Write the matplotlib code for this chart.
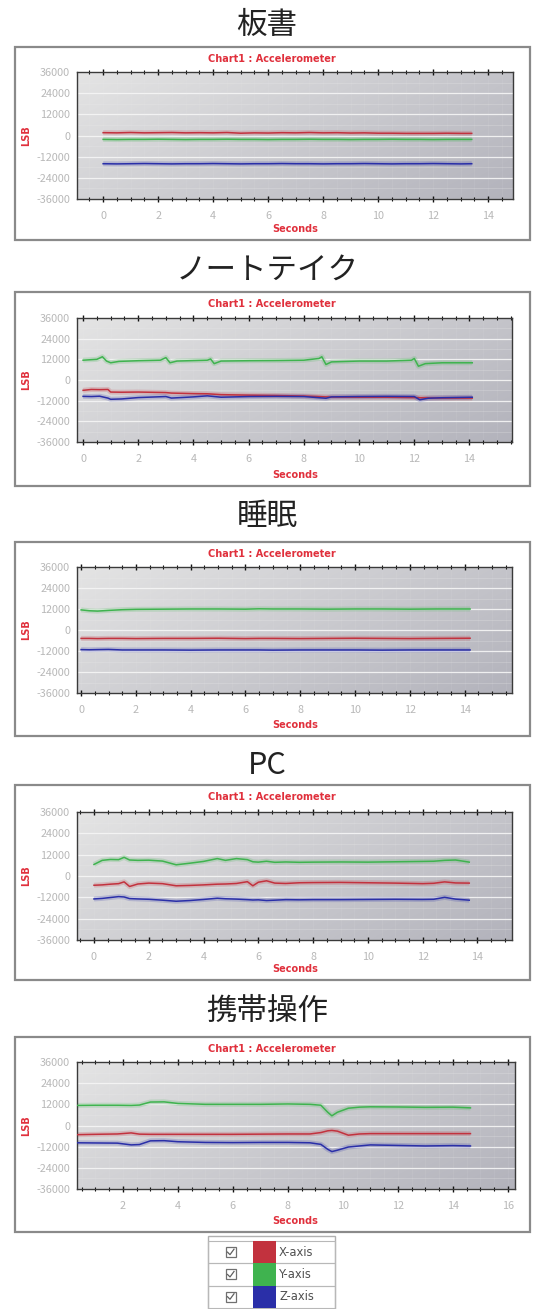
import matplotlib
matplotlib.use("Agg")
import matplotlib.pyplot as plt
import numpy as np
from matplotlib.patches import Rectangle
from matplotlib.lines import Line2D

plt.rcParams['font.family'] = ['Noto Sans CJK JP', 'DejaVu Sans']

# ---------------- data ----------------
panel_titles = ["板書", "ノートテイク", "睡眠", "PC", "携帯操作"]
series_labels = ["X-axis", "Y-axis", "Z-axis"]
y_ticks = [36000, 24000, 12000, 0, -12000, -24000, -36000]

# 板書
t1 = [0, 0.5, 1, 1.5, 2, 2.5, 3, 3.5, 4, 4.5, 5, 5.5, 6, 6.5, 7, 7.5, 8, 8.5, 9, 9.5,
      10, 10.5, 11, 11.5, 12, 12.5, 13, 13.4]
x1 = [1600, 1500, 1700, 1500, 1600, 1700, 1500, 1600, 1500, 1700, 1300, 1500, 1400, 1600,
      1500, 1700, 1500, 1600, 1400, 1500, 1300, 1300, 1200, 1200, 1200, 1300, 1200, 1200]
y1 = [-2200, -2300, -2200, -2200, -2100, -2200, -2300, -2200, -2200, -2100, -2200, -2200,
      -2300, -2200, -2200, -2100, -2200, -2200, -2300, -2200, -2200, -2100, -2200, -2200,
      -2300, -2200, -2200, -2200]
z1 = [-16000, -16100, -16000, -15900, -16000, -16100, -16000, -16000, -15900, -16000,
      -16100, -16000, -16000, -15900, -16000, -16000, -16100, -16000, -16000, -15900,
      -16000, -16100, -16000, -16000, -15900, -16000, -16100, -16000]

# ノートテイク
t2y = [0, 0.5, 0.7, 0.85, 1.0, 1.3, 2.0, 2.8, 3.0, 3.15, 3.4, 4.5, 4.62, 4.75, 5.0, 6.0,
       7.0, 8.0, 8.55, 8.65, 8.8, 9.0, 10.0, 11.0, 11.9, 12.0, 12.15, 12.4, 13.0, 14.1]
y2 = [11500, 12000, 13500, 11000, 10000, 10800, 11200, 11500, 13000, 10000, 11000, 11500,
      12200, 9500, 11000, 11200, 11300, 11500, 12500, 13500, 9000, 10500, 11000, 11000,
      11500, 12500, 8000, 9500, 10000, 10000]
t2xz = [0, 0.3, 0.6, 0.9, 1.0, 1.4, 2.0, 3.0, 3.2, 4.0, 4.5, 5.0, 6.0, 7.0, 8.0, 8.8,
        9.0, 10.0, 11.0, 12.0, 12.2, 12.5, 13.0, 14.1]
x2 = [-6000, -5500, -5600, -5500, -7000, -7100, -7000, -7300, -7600, -7900, -8000, -8500,
      -8800, -9000, -9300, -9800, -9900, -10000, -10000, -10200, -10300, -10400, -10500,
      -10500]
z2 = [-9500, -9600, -9400, -10500, -11200, -11000, -10200, -9600, -10500, -9800, -9200,
      -10000, -9600, -9500, -9600, -10600, -9800, -9600, -9500, -9600, -11500, -10600,
      -10300, -10000]

# 睡眠
t3 = [0, 0.3, 0.6, 1.0, 1.5, 2, 3, 4, 5, 6, 6.5, 7, 8, 9, 10, 11, 12, 13, 14.2]
x3 = [-4800, -4800, -4900, -4800, -4800, -4900, -4800, -4800, -4700, -4900, -4800, -4800,
      -4900, -4800, -4700, -4800, -4900, -4800, -4700]
y3 = [11500, 11000, 10800, 11200, 11600, 11800, 11900, 12000, 12000, 11900, 12100, 12000,
      12000, 11900, 12000, 12000, 11900, 12000, 12000]
z3 = [-11200, -11300, -11200, -11100, -11400, -11400, -11400, -11500, -11400, -11400,
      -11400, -11500, -11400, -11400, -11400, -11500, -11400, -11400, -11400]

# PC
t4 = [0, 0.3, 0.6, 0.9, 1.1, 1.3, 1.6, 2.0, 2.5, 3.0, 3.5, 4.0, 4.5, 4.8, 5.2, 5.6, 5.8,
      6.0, 6.3, 6.6, 7.0, 7.5, 8.0, 9.0, 10.0, 11.0, 12.0, 12.4, 12.8, 13.2, 13.7]
x4 = [-5200, -5000, -4600, -4300, -3300, -5900, -4500, -4000, -4300, -5500, -5300, -5000,
      -4600, -4500, -4200, -3200, -5500, -3500, -2700, -4000, -4200, -3800, -3700, -3600,
      -3800, -4000, -4300, -4100, -3300, -3900, -4000]
y4 = [6500, 8800, 9300, 9200, 10500, 9000, 8800, 8900, 8400, 6300, 7200, 8200, 9800, 8800,
      9800, 9200, 8000, 7800, 8300, 7700, 7900, 7700, 7800, 7900, 7800, 8000, 8200, 8300,
      8800, 9000, 7800]
z4 = [-12900, -12600, -12100, -11600, -11800, -12700, -12900, -13100, -13600, -14200,
      -13800, -13200, -12500, -12800, -13000, -13300, -13500, -13400, -13800, -13600,
      -13300, -13400, -13300, -13300, -13200, -13100, -13200, -13100, -12000, -13000, -13600]

# 携帯操作
t5 = [0.33, 1.0, 1.8, 2.3, 2.6, 3.0, 3.5, 4.0, 5.0, 6.0, 7.0, 8.0, 8.8, 9.2, 9.45, 9.6,
      9.8, 10.2, 10.6, 11.0, 12.0, 13.0, 14.0, 14.64]
x5 = [-5200, -5000, -4800, -4200, -4900, -5000, -5000, -5000, -5000, -5000, -4900, -4800,
      -4800, -4000, -3000, -2800, -3200, -5500, -4800, -4600, -4600, -4600, -4600, -4600]
y5 = [11400, 11500, 11500, 11400, 11600, 13300, 13400, 12500, 12000, 12000, 12000, 12200,
      12000, 11500, 7500, 5500, 7500, 9800, 10400, 10600, 10500, 10300, 10400, 10000]
z5 = [-9800, -9900, -10000, -11000, -10800, -8700, -8600, -9200, -9600, -9700, -9600, -9600,
      -9800, -10700, -13500, -14800, -14000, -12200, -11600, -11000, -11300, -11600, -11400,
      -11600]

panel_data = [
    (t1, x1, t1, y1, t1, z1),
    (t2xz, x2, t2y, y2, t2xz, z2),
    (t3, x3, t3, y3, t3, z3),
    (t4, x4, t4, y4, t4, z4),
    (t5, x5, t5, y5, t5, z5),
]

# ---------------- layout (pixels) ----------------
W, H = 545, 1309
colors = ["#c2323e", "#3fb34f", "#2a2fa8"]

# title y, frame (top, bottom), plot (left, top, right, bottom), xlim, xticks
layout = [
    (25, (47, 240), (77, 72, 513, 199), (-0.95, 14.9), [0, 2, 4, 6, 8, 10, 12, 14]),
    (270, (292, 486), (77, 318, 512, 442), (-0.22, 15.54), [0, 2, 4, 6, 8, 10, 12, 14]),
    (516, (542, 736), (77, 567, 512, 693), (-0.15, 15.73), [0, 2, 4, 6, 8, 10, 12, 14]),
    (766, (785, 980), (77, 812, 512, 940), (-0.62, 15.26), [0, 2, 4, 6, 8, 10, 12, 14]),
    (1011, (1037, 1232), (77, 1062, 515, 1189), (0.33, 16.26), [2, 4, 6, 8, 10, 12, 14, 16]),
]

fig = plt.figure(figsize=(W / 100, H / 100), dpi=100)
fig.patch.set_facecolor("white")


def fx(px):
    return px / W


def fy(py):
    return 1 - py / H


# gradient background image
gy, gx = np.mgrid[0:1:100j, 0:1:200j]
g = 0.65 * gx + 0.35 * gy
top = np.array([0.895, 0.895, 0.895])
bot = np.array([0.70, 0.70, 0.735])
grad = top[None, None, :] * (1 - g[..., None]) + bot[None, None, :] * g[..., None]

for i, (ty, (ft, fb), (pl, pt, pr, pb), xl, xt) in enumerate(layout):
    # title
    fig.text(fx(267), fy(ty), panel_titles[i], ha="center", va="center", fontsize=22,
             color="#222222")
    # frame
    fig.patches.append(Rectangle((fx(15), fy(fb)), fx(530) - fx(15), fy(ft) - fy(fb),
                                 transform=fig.transFigure, facecolor="white",
                                 edgecolor="#8a8a8a", lw=1.6, zorder=-5))
    fig.text(fx(272), fy(ft + 12), "Chart1 : Accelerometer", ha="center", va="center",
             fontsize=7, fontweight="bold", color="#e0303c", family="DejaVu Sans")
    fig.text(fx(295), fy(fb - 11), "Seconds", ha="center", va="center",
             fontsize=7, fontweight="bold", color="#e0303c", family="DejaVu Sans")
    fig.text(fx(26), fy((pt + pb) / 2), "LSB", ha="center", va="center", rotation=90,
             fontsize=7, fontweight="bold", color="#e0303c", family="DejaVu Sans")

    ax = fig.add_axes([fx(pl), fy(pb), fx(pr) - fx(pl), fy(pt) - fy(pb)])
    ax.set_zorder(2)
    ax.imshow(grad, extent=(0, 1, 0, 1), transform=ax.transAxes, aspect="auto",
              zorder=0, interpolation="bilinear")
    ax.set_xlim(*xl)
    ax.set_ylim(-36000, 36000)
    ax.set_yticks(y_ticks)
    ax.set_yticklabels([str(v) for v in y_ticks])
    ax.set_xticks(xt)
    ax.set_xticklabels([str(v) for v in xt])
    ax.set_xticks(np.arange(np.ceil(xl[0] * 2) / 2, xl[1], 0.5), minor=True)
    for yv in y_ticks:
        ax.axhline(yv, color="#f6f6f6", lw=0.9, zorder=1, alpha=0.9)
    for yv in range(-30000, 36000, 12000):
        ax.axhline(yv, color="#ececec", lw=0.5, zorder=1, alpha=0.35)
    for xv in np.arange(np.ceil(xl[0] * 2) / 2, xl[1], 0.5):
        ax.axvline(xv, color="#f0f0f0", lw=0.4, zorder=1, alpha=0.15)
    ax.tick_params(axis="x", which="both", direction="inout", top=True, bottom=True,
                   color="#111111", labelcolor="#b8b8b8", labelsize=7.8, pad=6)
    ax.tick_params(axis="x", which="major", length=5, width=1.0)
    ax.tick_params(axis="x", which="minor", length=3, width=0.8)
    ax.tick_params(axis="y", which="both", length=0, labelcolor="#b8b8b8", labelsize=7.8,
                   pad=5)
    for s in ax.spines.values():
        s.set_color("#3a3a3a")
        s.set_linewidth(1.0)

    tx, xv_, tyy, yv_, tz, zv_ = panel_data[i]
    for (tt, vv), c in zip([(tx, xv_), (tyy, yv_), (tz, zv_)], colors):
        ax.plot(tt, vv, color=c, lw=3.6, alpha=0.2, zorder=2, solid_capstyle="butt")
        ax.plot(tt, vv, color=c, lw=1.1, zorder=3)

# ---------------- legend table ----------------
lx0, lx1, lx2, lx3 = 208, 253, 276, 335
ly0 = 1241
rh = 22.3
fig.patches.append(Rectangle((fx(lx0), fy(1309)), fx(lx3) - fx(lx0), fy(1236) - fy(1309),
                             transform=fig.transFigure, facecolor="white",
                             edgecolor="#b0b0b0", lw=1.0, zorder=1))
for r in range(3):
    top_ = ly0 + r * rh
    bot_ = top_ + rh
    fig.patches.append(Rectangle((fx(lx0), fy(bot_)), fx(lx3) - fx(lx0), fy(top_) - fy(bot_),
                                 transform=fig.transFigure, facecolor="none",
                                 edgecolor="#b8b8b8", lw=0.8, zorder=2))
    fig.patches.append(Rectangle((fx(lx1), fy(bot_)), fx(lx2) - fx(lx1), fy(top_) - fy(bot_),
                                 transform=fig.transFigure, facecolor=colors[r],
                                 edgecolor="none", zorder=3))
    # checkbox
    cx, cy = 230.5, top_ + rh / 2
    fig.patches.append(Rectangle((fx(cx - 5), fy(cy + 5)), fx(10), 10 / H,
                                 transform=fig.transFigure, facecolor="white",
                                 edgecolor="#707070", lw=0.9, zorder=3))
    fig.lines.append(Line2D([fx(cx - 3), fx(cx - 0.5), fx(cx + 3.5)],
                            [fy(cy), fy(cy + 2.5), fy(cy - 3)],
                            transform=fig.transFigure, color="#606060", lw=0.9, zorder=4))
    fig.text(fx(lx2 + 3), fy(cy), series_labels[r], ha="left", va="center", fontsize=8.3,
             color="#505050", family="DejaVu Sans")

fig.savefig("out.png", dpi=100, facecolor="white")
